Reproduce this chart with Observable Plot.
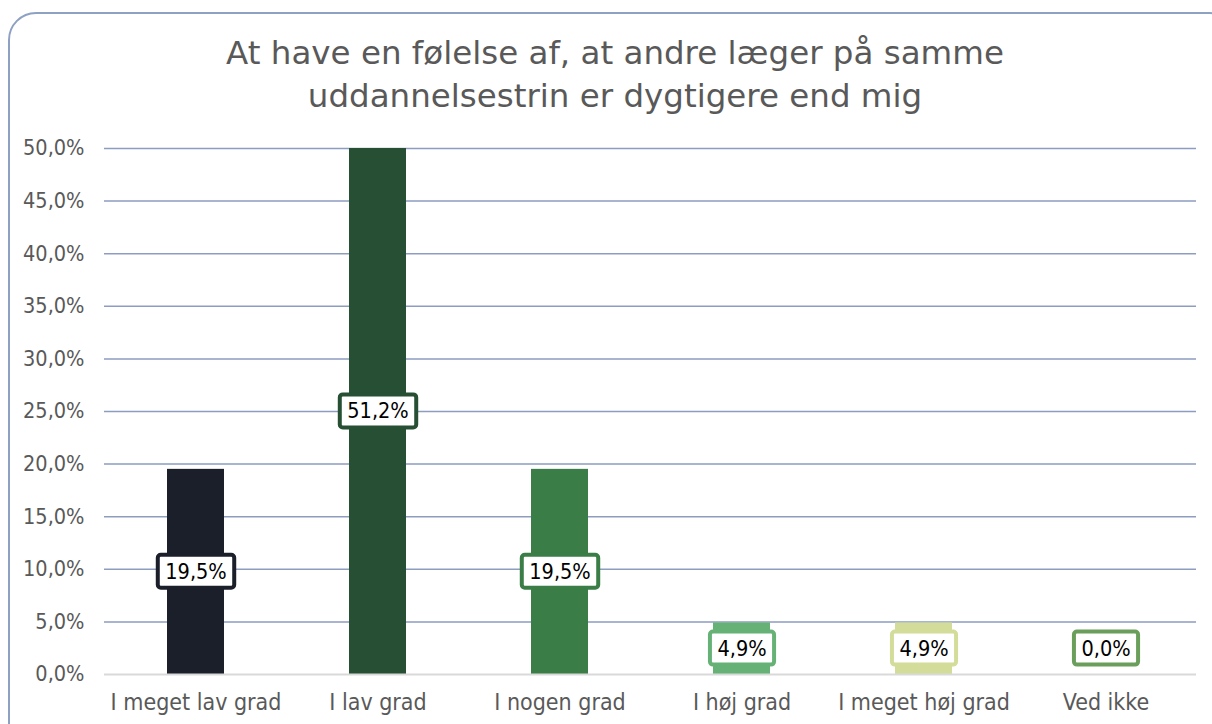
<!DOCTYPE html>
<html>
<head>
<meta charset="utf-8">
<script src="https://cdn.jsdelivr.net/npm/d3@7"></script>
<script src="https://cdn.jsdelivr.net/npm/@observablehq/plot@0.6"></script>
<style>
  html, body { margin: 0; padding: 0; background: #fff; width: 1212px; height: 724px; overflow: hidden; font-family: "DejaVu Sans", sans-serif; }
  #card { position: absolute; left: 8px; top: 12px; width: 1230px; height: 740px; border: 2px solid #8fa1c3; border-radius: 28px; box-sizing: border-box; }
  #title { position: relative; height: 125px; box-sizing: border-box; padding-top: 32px; text-align: center; color: #595959; font-size: 32.5px; line-height: 43px; padding-left: 18px; }
  #chart { position: relative; }
  #chart svg text { font-family: "DejaVu Sans Condensed", "DejaVu Sans", sans-serif; font-stretch: condensed; }
</style>
</head>
<body>
<div id="card"></div>
<div id="title">At have en følelse af, at andre læger på samme<br>uddannelsestrin er dygtigere end mig</div>
<div id="chart"></div>
<script>
const categories = ["I meget lav grad", "I lav grad", "I nogen grad", "I høj grad", "I meget høj grad", "Ved ikke"];
const values = [19.5, 51.2, 19.5, 4.9, 4.9, 0.0];
const colors = ["#1b1f2a", "#264f33", "#3a7d46", "#66b276", "#d3dc99", "#6a9e5b"];
const yTicks = [0, 5, 10, 15, 20, 25, 30, 35, 40, 45, 50];

const fmt = v => v.toFixed(1).replace(".", ",") + "%";
const data = categories.map((c, i) => ({
  cat: c, value: values[i], color: colors[i],
  shown: Math.min(values[i], 50),
  labelY: Math.max(Math.min(values[i], 50), 4.9) / 2,
  label: fmt(values[i])
}));

const plot = Plot.plot({
  width: 1212,
  height: 599,
  marginTop: 23,
  marginBottom: 50,
  marginLeft: 104,
  marginRight: 16,
  style: { fontFamily: "DejaVu Sans Condensed, DejaVu Sans, sans-serif", color: "#595959", background: "transparent" },
  x: { domain: categories, paddingInner: 0.687, paddingOuter: 0.3435, label: null, tickSize: 0, tickPadding: 19 },
  y: { domain: [0, 50], ticks: yTicks, tickFormat: fmt, label: null, tickSize: 0, tickPadding: 20 },
  marks: [
    Plot.ruleY(yTicks.filter(t => t > 0), { stroke: "#8d9dc0", strokeWidth: 1.5 }),
    Plot.barY(data, { x: "cat", y: "shown", fill: "color" }),
    Plot.ruleY([0], { stroke: "#d9d9d9", strokeWidth: 2 }),
    Plot.axisX({ tickSize: 0, tickPadding: 19, fontSize: 23, fill: "#595959", label: null }),
    Plot.axisY({ ticks: yTicks, tickFormat: fmt, tickSize: 0, tickPadding: 20, fontSize: 21.5, fill: "#595959", label: null }),
    Plot.text(data, { x: "cat", y: "labelY", text: "label", fill: "black", fontSize: 21.5, className: "vlabel" })
  ]
});
document.getElementById("chart").appendChild(plot);

// draw bordered boxes behind labels, sized to the text
const texts = plot.querySelectorAll("g.vlabel text");
texts.forEach((t, i) => {
  const b = t.getBBox();
  const padX = 7.5, padY = 5;
  const r = document.createElementNS("http://www.w3.org/2000/svg", "rect");
  r.setAttribute("x", b.x - padX);
  r.setAttribute("y", b.y - padY + 1);
  r.setAttribute("width", b.width + 2 * padX);
  r.setAttribute("height", b.height + 2 * padY - 2);
  r.setAttribute("rx", 3);
  r.setAttribute("fill", "white");
  r.setAttribute("stroke", data[i].color);
  r.setAttribute("stroke-width", 4);
  const tr = t.getAttribute("transform");
  if (tr) r.setAttribute("transform", tr);
  t.parentNode.insertBefore(r, t);
});
</script>
</body>
</html>
